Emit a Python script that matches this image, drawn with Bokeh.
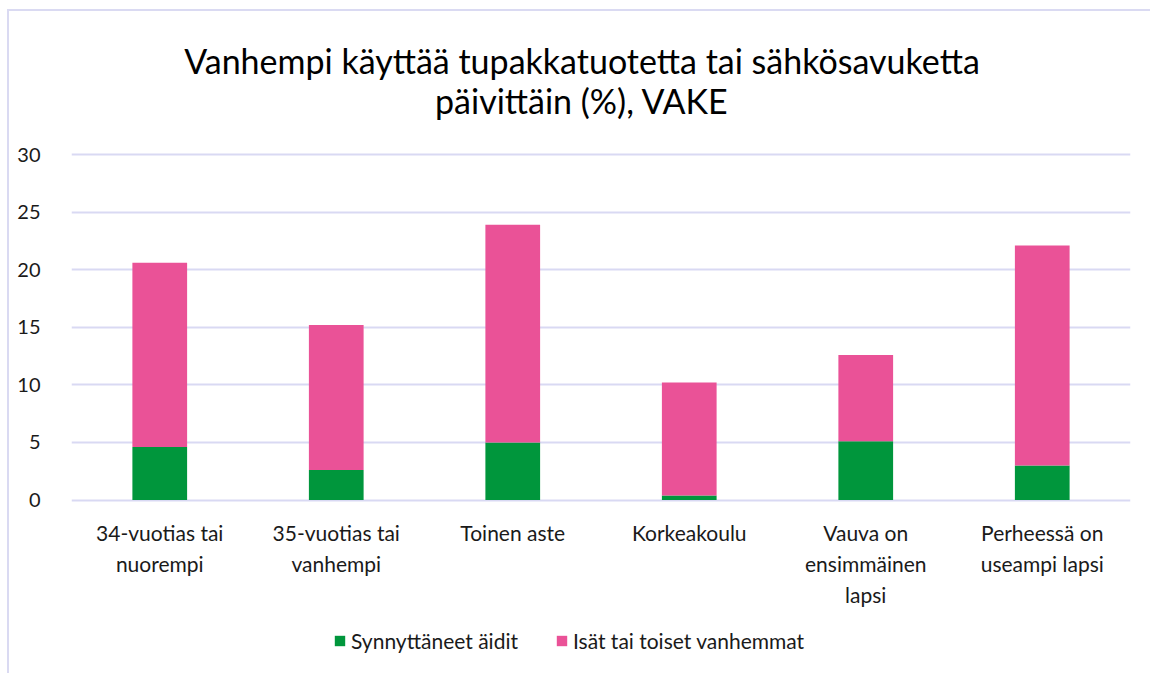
from bokeh.plotting import figure
from bokeh.models import (ColumnDataSource, FactorRange, Range1d, Legend, LegendItem, FixedTicker)
from bokeh.core.properties import value
from bokeh.embed import file_html
from bokeh.resources import INLINE

categories = ["34-vuotias tai\nnuorempi", "35-vuotias tai\nvanhempi", "Toinen aste",
              "Korkeakoulu", "Vauva on\nensimmäinen\nlapsi", "Perheessä on\nuseampi lapsi"]
mothers = [4.6, 2.6, 5.0, 0.4, 5.1, 3.0]
fathers = [16.0, 12.6, 18.9, 9.8, 7.5, 19.1]
series_names = ["Synnyttäneet äidit", "Isät tai toiset vanhemmat"]
colors = ["#00963C", "#EA5297"]
title_lines = ["Vanhempi käyttää tupakkatuotetta tai sähkösavuketta", "päivittäin (%), VAKE"]
y_ticks = [0, 5, 10, 15, 20, 25, 30]

FONT = "Lato"
OX, OY = 9, 11                      # chart box starts after a thin border
W, H = 1152 - OX, 675 - OY
FRAME_LEFT, FRAME_RIGHT = 71 - OX, 1130 - OX
Y0_PX, Y30_PX = 499.5 - OY, 154 - OY  # pixel rows of the 0 and 30 gridlines
k = (Y0_PX - Y30_PX) / 30.0           # pixels per unit
y_start = -(H - Y0_PX) / k
y_end = 30 + Y30_PX / k

src = ColumnDataSource(dict(cat=categories, m=mothers, f=fathers, base=[0] * len(categories)))

p = figure(x_range=FactorRange(factors=categories), y_range=Range1d(y_start, y_end),
           width=W, height=H, output_backend="svg", toolbar_location=None,
           min_border_left=FRAME_LEFT, min_border_right=W - FRAME_RIGHT,
           min_border_top=0, min_border_bottom=0)
p.styles = {"margin-left": "7px", "margin-top": "9px",
            "border-left": "2px solid #DADAF2", "border-top": "2px solid #DADAF2"}

rs = p.vbar_stack(["m", "f"], x="cat", width=0.31, color=colors, source=src, line_color=None)

# title (two centred lines above the bars)
tsrc = ColumnDataSource(dict(x=[3.0, 3.0],
                             y=[30 + (Y30_PX - (60 - OY)) / k, 30 + (Y30_PX - (100 - OY)) / k],
                             t=title_lines))
p.text(x="x", y="y", text="t", source=tsrc, text_align="center", text_baseline="middle",
       x_offset=-19, text_font=value(FONT), text_font_size="34px", text_color="#000000")

# category labels under the bars
p.text(x="cat", y="base", text="cat", source=src, y_offset=20, text_align="center",
       text_baseline="top", text_font=value(FONT), text_font_size="21px",
       text_color="#1A1A1A", text_line_height=1.23)

p.outline_line_color = None
p.background_fill_color = "#FFFFFF"
p.border_fill_color = "#FFFFFF"

p.xgrid.grid_line_color = None
p.ygrid.grid_line_color = "#D9D9F3"
p.ygrid.grid_line_width = 2

p.yaxis.ticker = FixedTicker(ticks=y_ticks)
yax = p.yaxis[0]
yax.axis_line_color = None
yax.major_tick_line_color = None
yax.minor_tick_line_color = None
yax.major_label_text_font = FONT
yax.major_label_text_font_size = "20px"
yax.major_label_text_color = "#1A1A1A"
yax.major_label_standoff = 25
p.xaxis.visible = False

legend = Legend(items=[LegendItem(label=series_names[0], renderers=[rs[0]]),
                       LegendItem(label=series_names[1], renderers=[rs[1]])],
                orientation="horizontal", location=(333 - 71, 22),
                label_text_font=FONT, label_text_font_size="21px", label_text_color="#1A1A1A",
                glyph_width=13, glyph_height=13, label_standoff=5, spacing=37,
                label_height=20, border_line_color=None, background_fill_alpha=0,
                padding=0, margin=0)
p.add_layout(legend, "center")

open("out.html", "w").write(file_html(p, INLINE))
